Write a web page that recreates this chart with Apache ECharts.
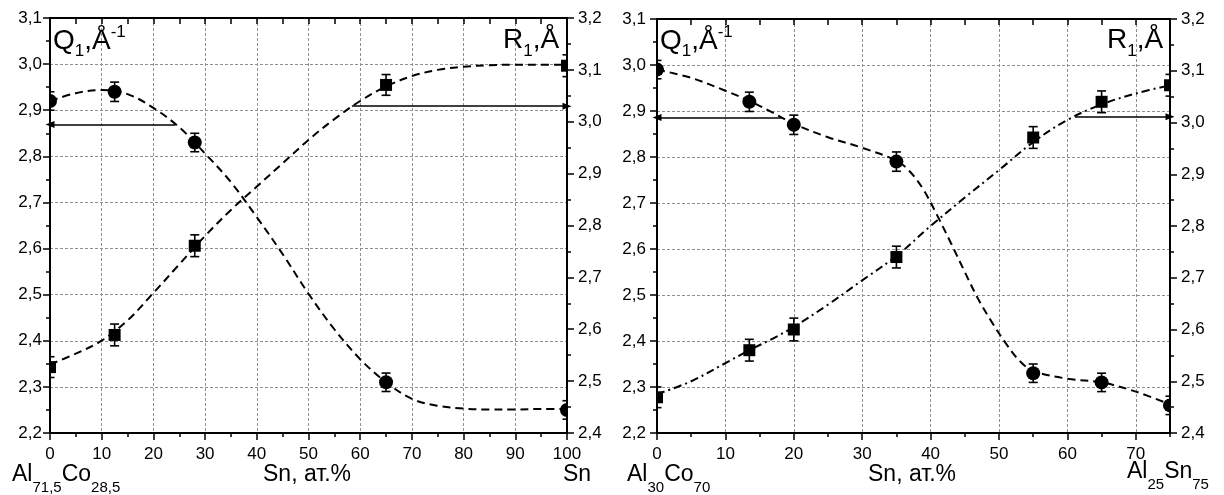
<!DOCTYPE html>
<html>
<head>
<meta charset="utf-8">
<script src="https://cdn.jsdelivr.net/npm/echarts@6/dist/echarts.min.js"></script>
<style>
html,body{margin:0;padding:0;background:#fff;}
#c{width:1224px;height:495px;}
</style>
</head>
<body>
<div id="c"></div>
<script>
// ---------- data: left panel (Al71,5Co28,5 – Sn) ----------
const xL = [0, 12.5, 28, 65, 100];
const qL = [2.92, 2.94, 2.83, 2.31, 2.25];
const qErrL = [0.02, 0.021, 0.02, 0.02, 0.02];
const rL = [2.527, 2.589, 2.761, 3.071, 3.108];
const rErrL = [0.02, 0.021, 0.021, 0.02, 0.021];
const fitXL = [0, 5, 10, 15, 20, 25, 30, 35, 40, 45, 50, 55, 60, 65, 70, 75, 80, 85, 90, 95, 100];
const qFitL = [2.92, 2.937, 2.944, 2.935, 2.905, 2.863, 2.806, 2.744, 2.668, 2.588, 2.502, 2.425, 2.36, 2.31, 2.274, 2.259, 2.253, 2.251, 2.251, 2.252, 2.252];
const rFitL = [2.532, 2.553, 2.578, 2.617, 2.670, 2.725, 2.78, 2.83, 2.875, 2.92, 2.965, 3.005, 3.04, 3.068, 3.088, 3.10, 3.106, 3.109, 3.11, 3.11, 3.11];
const arrowsL = [[24.2, 2.869, 0], [58.4, 3.03, 100]];

// ---------- data: right panel (Al30Co70 – Al25Sn75) ----------
const xR = [0, 13.5, 20, 35, 55, 65, 75];
const qR = [2.99, 2.92, 2.87, 2.79, 2.33, 2.31, 2.26];
const qErrR = [0.02, 0.021, 0.021, 0.021, 0.02, 0.02, 0.02];
const rR = [2.469, 2.56, 2.60, 2.74, 2.971, 3.04, 3.072];
const rErrR = [0.02, 0.021, 0.022, 0.021, 0.021, 0.021, 0.021];
const qFitXR = [0, 5, 10, 13.5, 17, 20, 25, 30, 35, 37, 39, 41, 43, 45, 47, 49, 51, 53, 55, 60, 65, 70, 75];
const qFitR = [2.99, 2.972, 2.944, 2.922, 2.896, 2.872, 2.843, 2.82, 2.792, 2.768, 2.728, 2.672, 2.612, 2.55, 2.49, 2.44, 2.395, 2.357, 2.335, 2.318, 2.31, 2.29, 2.262];
const rFitXR = [0, 5, 10, 13.5, 17, 20, 25, 30, 35, 40, 45, 50, 55, 60, 65, 70, 75];
const rFitR = [2.475, 2.50, 2.535, 2.56, 2.583, 2.605, 2.648, 2.695, 2.742, 2.80, 2.855, 2.908, 2.962, 3.005, 3.035, 3.056, 3.072];
const arrowsR = [[18.3, 2.886, 0], [61.1, 3.011, 75]];

// ---------- axis ranges ----------
const qRange = [2.2, 3.1];
const rRange = [2.4, 3.2];
const FONT = '"Liberation Sans", Arial, sans-serif';

const chart = echarts.init(document.getElementById('c'), null, {renderer: 'canvas'});
const fmt = v => (Math.round(v * 10) / 10).toFixed(1).replace('.', ',');

function bottomAxis(grid, max, extra) {
  return Object.assign({
    gridIndex: grid, type: 'value', position: 'bottom', min: 0, max: max, interval: 10,
    axisLine: {show: true, onZero: false, lineStyle: {color: '#000', width: 2}},
    axisTick: {show: true, inside: false, length: 7, lineStyle: {color: '#000', width: 1.5}},
    axisLabel: {show: true, color: '#000', fontSize: 17, fontFamily: FONT, margin: 13,
      showMaxLabel: max % 10 === 0, formatter: v => (v % 10 === 0 ? String(v) : '')},
    splitLine: {show: true, lineStyle: {color: '#8f8f8f', width: 1, type: [3, 2]}},
    minorTick: {show: false}
  }, extra || {});
}
function topAxis(grid, max) {
  return {
    gridIndex: grid, type: 'value', position: 'top', min: 0, max: max, interval: 5,
    axisLine: {show: true, onZero: false, lineStyle: {color: '#000', width: 2}},
    axisTick: {show: true, inside: true, length: 6, lineStyle: {color: '#000', width: 1.5}},
    axisLabel: {show: false}, splitLine: {show: false}
  };
}
function minorBottom(grid, max) {
  return {
    gridIndex: grid, type: 'value', position: 'bottom', min: 0, max: max, interval: 5,
    axisLine: {show: false, onZero: false},
    axisTick: {show: true, inside: false, length: 4, lineStyle: {color: '#000', width: 1.5}},
    axisLabel: {show: false}, splitLine: {show: false}
  };
}
function yAx(grid, range, pos, split, margin) {
  return {
    gridIndex: grid, type: 'value', position: pos, min: range[0], max: range[1], interval: 0.1,
    axisLine: {show: true, onZero: false, lineStyle: {color: '#000', width: 2}},
    axisTick: {show: true, inside: false, length: 7, lineStyle: {color: '#000', width: 1.5}},
    minorTick: {show: true, splitNumber: 2, length: 4, lineStyle: {color: '#000', width: 1.5}},
    axisLabel: {show: true, color: '#000', fontSize: 17, fontFamily: FONT, margin: margin, formatter: fmt},
    splitLine: {show: split, lineStyle: {color: '#8f8f8f', width: 1, type: [3, 2]}}
  };
}

function fitLine(xs, ys, xi, yi, dash) {
  return {
    type: 'line', xAxisIndex: xi, yAxisIndex: yi, data: xs.map((x, i) => [x, ys[i]]),
    symbol: 'none', smooth: 0.35, clip: true, z: 2,
    lineStyle: {color: '#000', width: 2, type: dash}
  };
}
// markers + error bars drawn together, clipped to the plot area
function markers(xs, ys, errs, xi, yi, shape) {
  return {
    type: 'custom', xAxisIndex: xi, yAxisIndex: yi, clip: true, z: 5,
    encode: {x: 0, y: [1, 2, 3]},
    data: xs.map((x, i) => [x, ys[i], ys[i] - errs[i], ys[i] + errs[i]]),
    renderItem: function (params, api) {
      const c = api.coord([api.value(0), api.value(1)]);
      const lo = api.coord([api.value(0), api.value(2)]);
      const hi = api.coord([api.value(0), api.value(3)]);
      const w = 4.5, st = {stroke: '#000', lineWidth: 1.6};
      const mark = shape === 'circle'
        ? {type: 'circle', shape: {cx: c[0], cy: c[1], r: 7}, style: {fill: '#000'}}
        : {type: 'rect', shape: {x: c[0] - 6, y: c[1] - 6, width: 12, height: 12}, style: {fill: '#000'}};
      return {
        type: 'group', children: [
          {type: 'line', shape: {x1: lo[0], y1: lo[1], x2: hi[0], y2: hi[1]}, style: st},
          {type: 'line', shape: {x1: lo[0] - w, y1: lo[1], x2: lo[0] + w, y2: lo[1]}, style: st},
          {type: 'line', shape: {x1: hi[0] - w, y1: hi[1], x2: hi[0] + w, y2: hi[1]}, style: st},
          mark
        ]
      };
    }
  };
}
function arrow(a, xi, yi) {
  return {
    type: 'line', xAxisIndex: xi, yAxisIndex: yi, data: [], symbol: 'none', z: 3,
    markLine: {
      silent: true, symbol: ['none', 'triangle'], symbolSize: [7, 9], precision: 4,
      label: {show: false},
      lineStyle: {color: '#000', width: 1.5, type: 'solid'},
      data: [[{coord: [a[0], a[1]]}, {coord: [a[2], a[1]]}]]
    }
  };
}

// ---------- labels built from text pieces (sub/superscripts) ----------
const cv = document.createElement('canvas').getContext('2d');
function tw(t, s) { cv.font = s + 'px ' + FONT; return cv.measureText(t).width; }
function textRun(x, yc, parts) {
  const out = [];
  let cx = x;
  parts.forEach(p => {
    out.push({
      type: 'text', x: cx, y: yc + (p[2] || 0), z: 10,
      style: {text: p[0], fontSize: p[1], fontFamily: FONT, fill: '#000', align: 'left', verticalAlign: 'middle'}
    });
    cx += tw(p[0], p[1]) + (p[3] || 0);
  });
  return out;
}

const graphics = [].concat(
  textRun(53, 41, [['Q', 28], ['1', 17, 10], [',', 28], ['Å', 28], ['-1', 17, -9]]),
  textRun(503, 40, [['R', 28], ['1', 17, 11], [',', 28], ['Å', 28]]),
  textRun(660, 41, [['Q', 28], ['1', 17, 10], [',', 28], ['Å', 28], ['-1', 17, -9]]),
  textRun(1107, 40, [['R', 28], ['1', 17, 11], [',', 28], ['Å', 28]]),
  textRun(12, 475, [['Al', 23], ['71,5', 15, 13], ['Co', 23], ['28,5', 15, 13]]),
  textRun(263, 475, [['Sn, ат.%', 23]]),
  textRun(563, 475, [['Sn', 23]]),
  textRun(627, 475, [['Al', 23], ['30', 15, 13], ['Co', 23], ['70', 15, 13]]),
  textRun(868, 475, [['Sn, ат.%', 23]]),
  textRun(1127, 472, [['Al', 23], ['25', 15, 13], ['Sn', 23], ['75', 15, 13]])
);

const option = {
  animation: false,
  backgroundColor: '#fff',
  grid: [
    {left: 50, top: 18, width: 517, height: 415, containLabel: false},
    {left: 657, top: 19, width: 513, height: 414, containLabel: false}
  ],
  xAxis: [
    bottomAxis(0, 100, {minorTick: {show: true, splitNumber: 2, length: 4, lineStyle: {color: '#000', width: 1.5}}}),
    topAxis(0, 100),
    minorBottom(0, 100),
    bottomAxis(1, 75),
    topAxis(1, 75),
    minorBottom(1, 75)
  ],
  yAxis: [
    yAx(0, qRange, 'left', true, 8),
    yAx(0, rRange, 'right', false, 11),
    yAx(1, qRange, 'left', true, 11),
    yAx(1, rRange, 'right', false, 11)
  ],
  series: [
    fitLine(fitXL, qFitL, 0, 0, [8, 5]),
    fitLine(fitXL, rFitL, 0, 1, [8, 5]),
    markers(xL, qL, qErrL, 0, 0, 'circle'),
    markers(xL, rL, rErrL, 0, 1, 'rect'),
    arrow(arrowsL[0], 0, 0),
    arrow(arrowsL[1], 0, 1),

    fitLine(qFitXR, qFitR, 3, 2, [8, 5]),
    fitLine(rFitXR, rFitR, 3, 3, [8, 4, 2, 4]),
    markers(xR, qR, qErrR, 3, 2, 'circle'),
    markers(xR, rR, rErrR, 3, 3, 'rect'),
    arrow(arrowsR[0], 3, 2),
    arrow(arrowsR[1], 3, 3)
  ],
  graphic: graphics
};
chart.setOption(option);
</script>
</body>
</html>
